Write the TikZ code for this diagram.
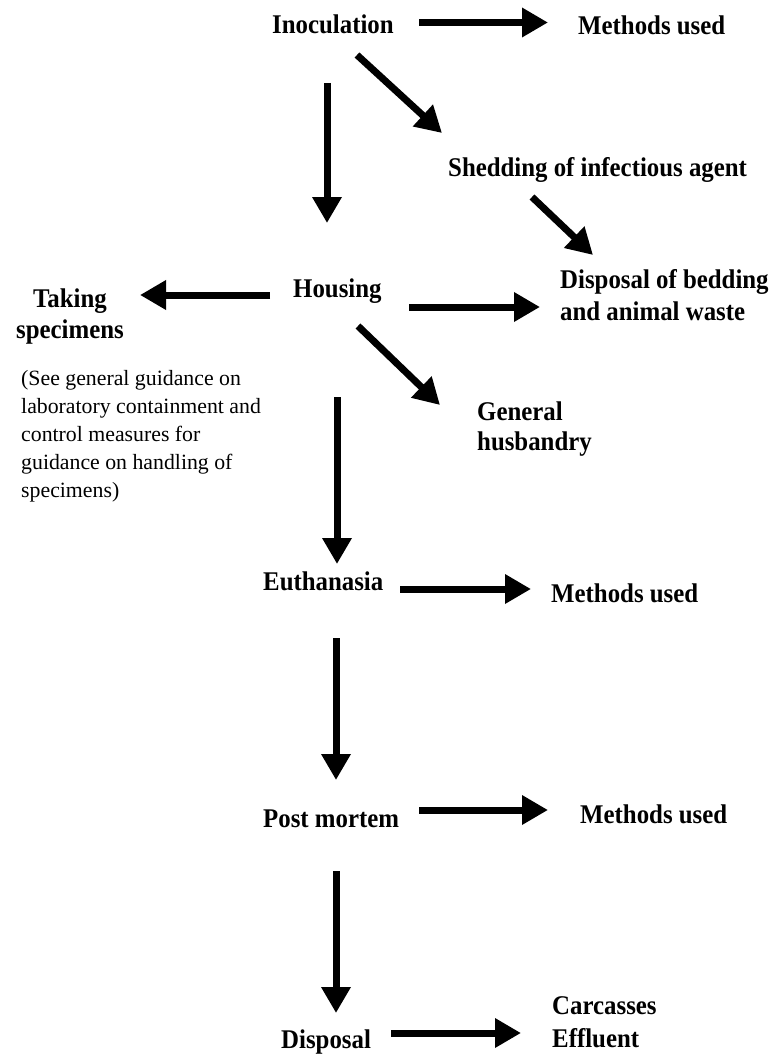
\documentclass[tikz,border=0pt]{standalone}
\usepackage{fontspec}
\setmainfont{Liberation Serif}
\newfontfamily\condbf{Liberation Serif}[FakeStretch=0.92]
\usetikzlibrary{arrows.meta}
\begin{document}
\begin{tikzpicture}[x=1pt,y=-1pt,
  lbl/.style={font=\condbf\fontsize{27}{31}\selectfont\bfseries, inner sep=0pt, anchor=base west},
  note/.style={font=\fontsize{21.8}{28}\selectfont, inner sep=0pt, anchor=base west},
  arr/.style={line width=7pt, -{Triangle[length=26pt,width=28pt]}}]
\useasboundingbox (0,0) rectangle (772,1054);
% nodes
\node[lbl] (inoc) at (272,34) {Inoculation};
\node[lbl] (m1) at (578,35) {Methods used};
\node[lbl] (shed) at (448,176) {Shedding of infectious agent};
\node[lbl] (hous) at (293,297) {Housing};
\node[lbl, anchor=base] (take) at (70,307) {\vtop{\hbox to 0pt{\hss Taking\hss}\hbox to 0pt{\hss specimens\hss}}};
\node[note] (guid) at (21,385) {\vtop{\hbox{(See general guidance on}\hbox{laboratory containment and}\hbox{control measures for}\hbox{guidance on handling of}\hbox{specimens)}}};
\node[lbl, font=\condbf\fontsize{27}{32}\selectfont\bfseries] (disp) at (560,288) {\vtop{\hbox{Disposal of bedding}\hbox{and animal waste}}};
\node[lbl, font=\condbf\fontsize{27}{30}\selectfont\bfseries] (gen) at (477,420) {\vtop{\hbox{General}\hbox{husbandry}}};
\node[lbl] (euth) at (263,590) {Euthanasia};
\node[lbl] (m2) at (551,602) {Methods used};
\node[lbl] (post) at (263,827) {Post mortem};
\node[lbl] (m3) at (580,823) {Methods used};
\node[lbl] (dispo) at (281,1048) {Disposal};
\node[lbl, font=\condbf\fontsize{27}{33}\selectfont\bfseries] (carc) at (552,1014) {\vtop{\hbox{Carcasses}\hbox{Effluent}}};
% connectors
\draw[arr] ([shift={(147,-11.5)}]inoc.base west) -- ([shift={(-30,-12.5)}]m1.base west);
\draw[arr] ([shift={(85,21)}]inoc.base west) -- ([shift={(-6,-43)}]shed.base west);
\draw[arr] ([shift={(55,49)}]inoc.base west) -- ([shift={(34,-74)}]hous.base west);
\draw[arr] ([shift={(84,21)}]shed.base west) -- ([shift={(33,-33)}]disp.base west);
\draw[arr] ([shift={(-23,-2)}]hous.base west) -- ([shift={(70,-12)}]take.base);
\draw[arr] ([shift={(116,10)}]hous.base west) -- ([shift={(-20,19)}]disp.base west);
\draw[arr] ([shift={(65,29)}]hous.base west) -- ([shift={(-37,-15)}]gen.base west);
\draw[arr] ([shift={(44,100)}]hous.base west) -- ([shift={(74,-26)}]euth.base west);
\draw[arr] ([shift={(137,-1)}]euth.base west) -- ([shift={(-20,-13)}]m2.base west);
\draw[arr] ([shift={(73,48)}]euth.base west) -- ([shift={(73,-47)}]post.base west);
\draw[arr] ([shift={(156,-17)}]post.base west) -- ([shift={(-32,-13)}]m3.base west);
\draw[arr] ([shift={(73,44)}]post.base west) -- ([shift={(55,-35)}]dispo.base west);
\draw[arr] ([shift={(110,-15)}]dispo.base west) -- ([shift={(-31,19)}]carc.base west);
\end{tikzpicture}
\end{document}
